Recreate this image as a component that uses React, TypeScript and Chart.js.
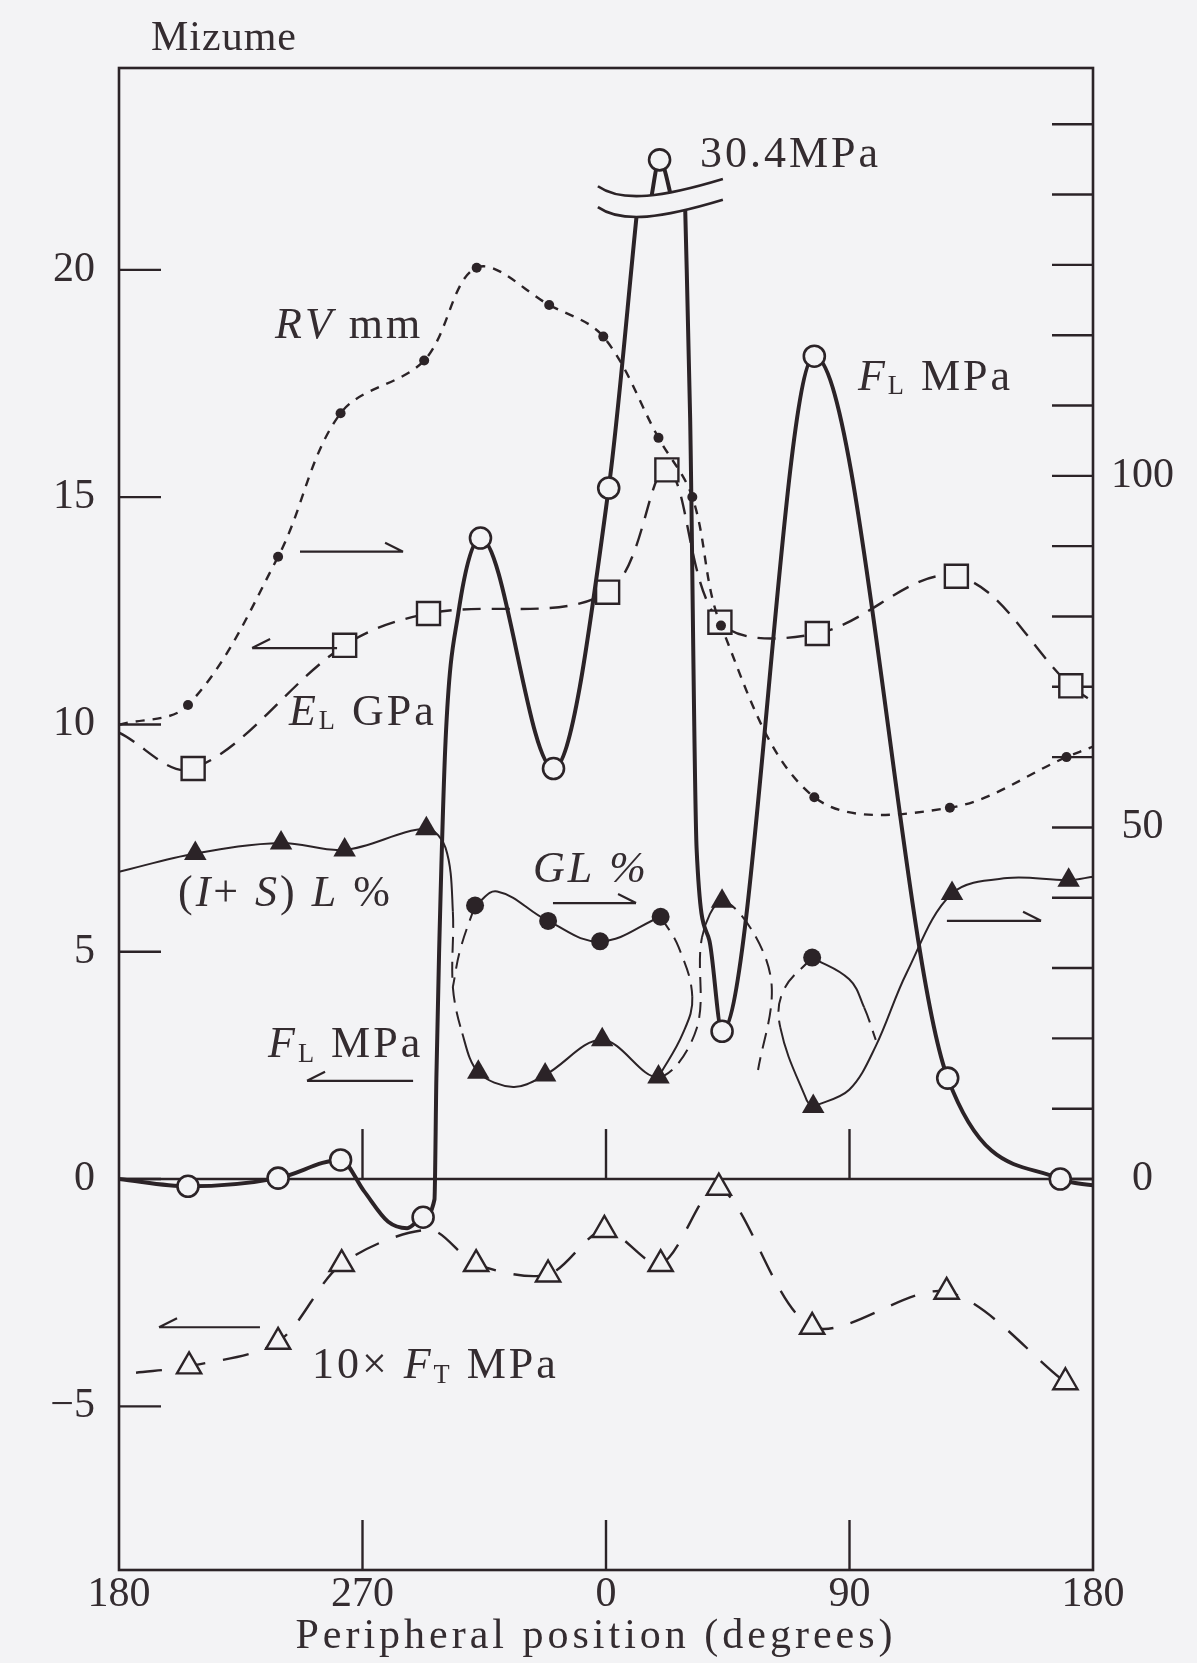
import React, { useEffect, useRef } from 'react';
import { Chart, registerables } from 'chart.js';

Chart.register(...registerables);

const W = 1197;
const H = 1663;
const BG = '#f3f3f5';
const INK = '#2b2327';
const TEXT = '#342c30';
const SERIF = '"Liberation Serif", "DejaVu Serif", serif';

// Peripheral position: axis runs 180° → 270° → 0° → 90° → 180°, stored as 0..360
const X_TICK_LABELS = ['180', '270', '0', '90', '180'];
const LEFT_TICKS = [-5, 0, 5, 10, 15, 20];
const RIGHT_TICKS = [0, 10, 20, 30, 40, 50, 60, 70, 80, 90, 100, 110, 120, 130, 140, 150];
const RIGHT_TICK_LABELS = [0, 50, 100];
const AXIS_TICK_POS = [90, 180, 270];

// F_L MPa (left axis), null = axis break
const FL_X = [0, 25.5, 58.8, 81.9, 90.5, 99.5, 106.5, 112.4, 116.6, 117.3, 118.3, 120.7, 125.4, 133.6, 160.6, 181.0, 191.5, 194, 196.3, 199.8, 204.8, 207, 209.2, 211.1, 213.5, 218.2, 222.9, 257.0, 306.3, 347.9, 360];
const FL_Y = [0, -0.16, 0.02, 0.42, -0.26, -0.94, -1.08, -0.84, -0.45, 2.2, 4.96, 9.64, 12.44, 14.1, 9.03, 15.2, 21.3, null, 21.45, 22.42, 21.45, null, 21.5, 16.74, 7.25, 5.25, 3.25, 18.1, 2.22, 0, -0.14];
const FL_MARK = [0, 1, 1, 1, 0, 0, 0, 1, 0, 0, 0, 0, 0, 1, 1, 1, 0, 0, 0, 1, 0, 0, 0, 0, 0, 0, 1, 1, 1, 1, 0];

// RV mm (right axis)
const RV_X = [0, 25.5, 58.8, 81.9, 112.8, 132.2, 159.0, 179.0, 199.4, 211.9, 222.5, 257.0, 307.1, 350.2, 360];
const RV_Y = [64.6, 67.4, 88.5, 108.9, 116.4, 129.6, 124.3, 119.8, 105.4, 97.0, 78.7, 54.3, 52.8, 60.0, 61.5];
const RV_MARK = [0, 1, 1, 1, 1, 1, 1, 1, 1, 1, 1, 1, 1, 1, 0];

// E_L GPa (left axis)
const EL_X = [0, 27.4, 83.4, 114.4, 180.6, 202.5, 222.1, 258.1, 309.5, 351.8, 360];
const EL_Y = [9.82, 9.03, 11.74, 12.44, 12.91, 15.6, 12.25, 12.0, 13.26, 10.85, 10.5];
const EL_MARK = [0, 1, 1, 1, 1, 1, 1, 1, 1, 1, 0];

// 10 x F_T MPa (left axis)
const FT_X = [6.3, 25.9, 58.8, 82.3, 114.8, 132.0, 158.6, 179.4, 200.2, 221.7, 256.2, 305.9, 349.8];
const FT_Y = [-4.26, -4.12, -3.58, -1.87, -1.12, -1.87, -2.10, -1.12, -1.87, -0.19, -3.25, -2.48, -4.47];
const FT_MARK = [0, 1, 1, 1, 0, 1, 1, 1, 1, 1, 1, 1, 1];

// (I+S)L % (right axis)
const ISL_X = [0, 28.2, 59.9, 83.4, 113.6, 120.7, 123.4, 123.4, 126.9, 132.8, 145.7, 157.5, 178.6, 199.4, 213.5, 215.5, 222.9, 235.0, 241.3, 236.2];
const ISL_Y = [43.7, 46.3, 47.8, 46.8, 49.8, 47.1, 38.0, 27.3, 20.7, 15.2, 13.1, 14.8, 19.8, 14.5, 21.4, 34.4, 39.5, 34.7, 27.0, 15.5];
const ISL_MARK = [0, 1, 1, 1, 1, 0, 0, 0, 0, 1, 0, 1, 1, 1, 0, 0, 1, 0, 0, 0];
const ISL_DASH = [0, 0, 0, 0, 0, 0, 1, 1, 0, 0, 0, 0, 0, 1, 1, 0, 1, 1, 1];

const ISL2_X = [256.6, 269.9, 279.7, 291.1, 307.9, 328.3, 351.0, 360];
const ISL2_Y = [10.3, 12.7, 18.9, 29.3, 40.6, 42.8, 42.5, 43.0];
const ISL2_MARK = [1, 0, 0, 0, 1, 0, 1, 0];

// GL % (right axis)
const GL_X = [131.6, 139.8, 158.6, 177.8, 200.2, 228, 256.2];
const GL_Y = [38.9, 40.9, 36.7, 33.8, 37.3, null, 31.5];
const GL_MARK = [1, 0, 1, 1, 1, 0, 1];

// connecting curves between GL and (I+S)L (right axis)
const LINK1_X = [131.6, 126.1, 123.4];
const LINK1_Y = [38.9, 32.6, 27.3];
const LINK1_DASH = [1, 1];
const LINK2_X = [200.2, 206.8, 211.9, 208.4, 199.4];
const LINK2_Y = [37.3, 33.0, 25.9, 20.7, 14.5];
const LINK2_DASH = [1, 1, 0, 0];
const LINK3_X = [256.2, 245.6, 244.4, 254.2, 256.6];
const LINK3_Y = [31.5, 26.8, 21.6, 11.2, 10.3];
const LINK3_DASH = [1, 1, 0, 0];
const LINK4_X = [256.2, 269.9, 275.4, 279.7];
const LINK4_Y = [31.5, 28.4, 24.4, 19.8];
const LINK4_DASH = [0, 0, 1];

const pts = (xs: number[], ys: (number | null)[]) => xs.map((x, i) => ({ x, y: ys[i] }));
const radii = (mark: number[], r: number) => mark.map((m) => (m ? r : 0));

type Part = { t: string; it?: boolean; sub?: boolean };

const NOTES: { u: number; v: number; parts: Part[] }[] = [
  { u: 214.7, v: 22.26, parts: [{ t: '30.4MPa' }] },
  { u: 57.7, v: 18.5, parts: [{ t: 'R', it: true }, { t: 'V', it: true }, { t: ' mm' }] },
  { u: 273.1, v: 17.36, parts: [{ t: 'F', it: true }, { t: 'L', sub: true }, { t: ' MPa' }] },
  { u: 62.8, v: 9.99, parts: [{ t: 'E', it: true }, { t: 'L', sub: true }, { t: ' GPa' }] },
  { u: 21.8, v: 6.0, parts: [{ t: '(' }, { t: 'I', it: true }, { t: '+ ' }, { t: 'S', it: true }, { t: ') ' }, { t: 'L', it: true }, { t: ' %' }] },
  { u: 153.0, v: 6.53, parts: [{ t: 'GL', it: true }, { t: ' %', it: true }] },
  { u: 55.1, v: 2.68, parts: [{ t: 'F', it: true }, { t: 'L', sub: true }, { t: ' MPa' }] },
  { u: 71.3, v: -4.38, parts: [{ t: '10×' }, { t: ' F', it: true }, { t: 'T', sub: true }, { t: ' MPa' }] },
];

// harpoon arrows: from u0 to u1 at level v (left axis units)
const ARROWS = [
  { u0: 66.9, u1: 105.0, v: 13.8 },
  { u0: 80.6, u1: 49.2, v: 11.68 },
  { u0: 160.4, u1: 191.1, v: 6.07 },
  { u0: 108.7, u1: 69.5, v: 2.16 },
  { u0: 306.0, u1: 340.8, v: 5.68 },
  { u0: 52.1, u1: 14.8, v: -3.26 },
];

function drawRich(ctx: CanvasRenderingContext2D, parts: Part[], x: number, y: number, size: number, spacing: number) {
  let cx = x;
  ctx.save();
  ctx.fillStyle = TEXT;
  ctx.textBaseline = 'alphabetic';
  ctx.textAlign = 'left';
  (ctx as any).letterSpacing = spacing + 'px';
  for (const p of parts) {
    const s = p.sub ? size * 0.6 : size;
    ctx.font = `${p.it ? 'italic ' : ''}${s}px ${SERIF}`;
    ctx.fillText(p.t, cx, y + (p.sub ? size * 0.1 : 0));
    cx += ctx.measureText(p.t).width;
  }
  ctx.restore();
}

const overlay = {
  id: 'overlay',
  beforeDatasetsDraw(chart: any) {
    const { ctx, chartArea: a, scales } = chart;
    const sx = scales.x, yL = scales.yL, yR = scales.yR;
    const seg = (x0: number, y0: number, x1: number, y1: number) => {
      ctx.beginPath();
      ctx.moveTo(x0, y0);
      ctx.lineTo(x1, y1);
      ctx.stroke();
    };
    ctx.save();
    ctx.strokeStyle = INK;
    ctx.lineWidth = 2.6;
    ctx.strokeRect(a.left, a.top, a.right - a.left, a.bottom - a.top);
    ctx.lineWidth = 2.4;
    const z = yL.getPixelForValue(0);
    seg(a.left, z, a.right, z);
    for (const v of LEFT_TICKS) {
      const py = yL.getPixelForValue(v);
      seg(a.left, py, a.left + 42, py);
    }
    for (const r of RIGHT_TICKS) {
      const py = yR.getPixelForValue(r);
      seg(a.right - 41, py, a.right, py);
    }
    for (const u of AXIS_TICK_POS) {
      const px = sx.getPixelForValue(u);
      seg(px, a.bottom, px, a.bottom - 50);
      seg(px, z, px, z - 50);
    }
    ctx.restore();
  },
  afterDatasetsDraw(chart: any) {
    const { ctx, scales } = chart;
    const sx = scales.x, yL = scales.yL;
    const P = (u: number, v: number) => [sx.getPixelForValue(u), yL.getPixelForValue(v)];
    ctx.save();
    // axis break on the F_L peak
    const top = [P(177.0, 21.84), P(186, 21.47), P(201, 21.6), P(223.2, 22.0)];
    const bot = [P(177.0, 21.38), P(186, 21.01), P(201, 21.14), P(223.2, 21.54)];
    ctx.fillStyle = BG;
    ctx.beginPath();
    ctx.moveTo(top[0][0], top[0][1]);
    ctx.bezierCurveTo(top[1][0], top[1][1], top[2][0], top[2][1], top[3][0], top[3][1]);
    ctx.lineTo(bot[3][0], bot[3][1]);
    ctx.bezierCurveTo(bot[2][0], bot[2][1], bot[1][0], bot[1][1], bot[0][0], bot[0][1]);
    ctx.closePath();
    ctx.fill();
    ctx.strokeStyle = INK;
    ctx.lineWidth = 2.6;
    for (const c of [top, bot]) {
      ctx.beginPath();
      ctx.moveTo(c[0][0], c[0][1]);
      ctx.bezierCurveTo(c[1][0], c[1][1], c[2][0], c[2][1], c[3][0], c[3][1]);
      ctx.stroke();
    }
    // arrows
    ctx.lineWidth = 2.2;
    for (const ar of ARROWS) {
      const [x0, y] = P(ar.u0, ar.v);
      const [x1] = P(ar.u1, ar.v);
      const dir = Math.sign(x1 - x0);
      ctx.beginPath();
      ctx.moveTo(x0, y);
      ctx.lineTo(x1, y);
      ctx.moveTo(x1, y);
      ctx.lineTo(x1 - dir * 18, y - 9);
      ctx.stroke();
    }
    ctx.restore();
    for (const n of NOTES) {
      const [x, y] = P(n.u, n.v);
      drawRich(ctx, n.parts, x, y, 44, 3);
    }
  },
  afterDraw(chart: any) {
    const { ctx, chartArea: a } = chart;
    drawRich(ctx, [{ t: 'Mizume' }], a.left + 32, a.top - 18, 42, 1);
    ctx.save();
    ctx.fillStyle = TEXT;
    ctx.font = `42px ${SERIF}`;
    (ctx as any).letterSpacing = '4px';
    ctx.textAlign = 'center';
    ctx.textBaseline = 'alphabetic';
    ctx.fillText('Peripheral position (degrees)', (a.left + a.right) / 2 - 10, a.bottom + 78);
    ctx.restore();
  },
};

export default function App() {
  const ref = useRef<HTMLCanvasElement>(null);
  useEffect(() => {
    const canvas = ref.current;
    if (!canvas) return;
    const tickFont = { family: SERIF, size: 42 };
    const link = (xs: number[], ys: number[], dash: number[]) => ({
      data: pts(xs, ys),
      yAxisID: 'yR',
      borderColor: INK,
      borderWidth: 2,
      tension: 0.4,
      pointRadius: 0,
      fill: false,
      segment: { borderDash: (c: any) => (dash[c.p0DataIndex] ? [16, 9] : []) },
    });
    const chart = new Chart(canvas, {
      type: 'line',
      data: {
        datasets: [
          {
            label: 'F_L MPa',
            data: pts(FL_X, FL_Y),
            yAxisID: 'yL',
            borderColor: INK,
            borderWidth: 4,
            cubicInterpolationMode: 'monotone',
            spanGaps: false,
            pointStyle: 'circle',
            pointRadius: radii(FL_MARK, 10.5),
            pointBorderWidth: 2.6,
            pointBackgroundColor: BG,
            pointBorderColor: INK,
            fill: false,
          },
          {
            label: 'RV mm',
            data: pts(RV_X, RV_Y),
            yAxisID: 'yR',
            borderColor: INK,
            borderWidth: 2.4,
            borderDash: [9, 8],
            tension: 0.35,
            pointStyle: 'circle',
            pointRadius: radii(RV_MARK, 5),
            pointBorderWidth: 0,
            pointBackgroundColor: INK,
            fill: false,
          },
          {
            label: 'GL %',
            data: pts(GL_X, GL_Y),
            yAxisID: 'yR',
            borderColor: INK,
            borderWidth: 2,
            tension: 0.4,
            spanGaps: false,
            pointStyle: 'circle',
            pointRadius: radii(GL_MARK, 9),
            pointBorderWidth: 0,
            pointBackgroundColor: INK,
            fill: false,
          },
          link(LINK1_X, LINK1_Y, LINK1_DASH),
          link(LINK2_X, LINK2_Y, LINK2_DASH),
          link(LINK3_X, LINK3_Y, LINK3_DASH),
          link(LINK4_X, LINK4_Y, LINK4_DASH),
          {
            label: '(I+S)L %',
            data: pts(ISL_X, ISL_Y),
            yAxisID: 'yR',
            borderColor: INK,
            borderWidth: 2,
            tension: 0.35,
            pointStyle: 'triangle',
            pointRadius: radii(ISL_MARK, 13),
            pointBorderWidth: 0,
            pointBackgroundColor: INK,
            fill: false,
            segment: { borderDash: (c: any) => (ISL_DASH[c.p0DataIndex] ? [16, 9] : []) },
          },
          {
            label: '(I+S)L % b',
            data: pts(ISL2_X, ISL2_Y),
            yAxisID: 'yR',
            borderColor: INK,
            borderWidth: 2,
            tension: 0.35,
            pointStyle: 'triangle',
            pointRadius: radii(ISL2_MARK, 13),
            pointBorderWidth: 0,
            pointBackgroundColor: INK,
            fill: false,
          },
          {
            label: 'E_L GPa',
            data: pts(EL_X, EL_Y),
            yAxisID: 'yL',
            borderColor: INK,
            borderWidth: 2.4,
            borderDash: [18, 11],
            tension: 0.35,
            pointStyle: 'rect',
            pointRadius: radii(EL_MARK, 16.3),
            pointBorderWidth: 2.4,
            pointBackgroundColor: BG,
            pointBorderColor: INK,
            fill: false,
          },
          {
            label: '10xF_T MPa',
            data: pts(FT_X, FT_Y),
            yAxisID: 'yL',
            borderColor: INK,
            borderWidth: 2.4,
            borderDash: [26, 18],
            tension: 0.3,
            pointStyle: 'triangle',
            pointRadius: radii(FT_MARK, 14),
            pointBorderWidth: 2.4,
            pointBackgroundColor: BG,
            pointBorderColor: INK,
            fill: false,
          },
        ],
      } as any,
      options: {
        responsive: false,
        animation: false,
        devicePixelRatio: 1,
        events: [],
        layout: { padding: { top: 68, left: 0, right: 0, bottom: 0 } },
        plugins: { legend: { display: false }, tooltip: { enabled: false }, title: { display: false } },
        scales: {
          x: {
            type: 'linear',
            min: 0,
            max: 360,
            grid: { display: false, drawTicks: false },
            border: { display: false },
            ticks: {
              stepSize: 90,
              autoSkip: false,
              maxRotation: 0,
              padding: 0,
              color: TEXT,
              font: tickFont,
              callback: (v: any) => X_TICK_LABELS[Math.round(Number(v) / 90)] ?? '',
            },
            afterFit: (s: any) => {
              s.height = 93;
            },
          },
          yL: {
            type: 'linear',
            position: 'left',
            min: -8.6,
            max: 24.44,
            grid: { display: false, drawTicks: false },
            border: { display: false },
            ticks: {
              stepSize: 5,
              includeBounds: false,
              autoSkip: false,
              padding: 24,
              color: TEXT,
              font: tickFont,
              callback: (v: any) => {
                const n = Number(v);
                if (!LEFT_TICKS.includes(n)) return '';
                return n < 0 ? '−' + Math.abs(n) : String(n);
              },
            },
            afterFit: (s: any) => {
              s.width = 119;
            },
          },
          yR: {
            type: 'linear',
            position: 'right',
            min: -55.6,
            max: 158,
            grid: { display: false, drawTicks: false },
            border: { display: false },
            ticks: {
              stepSize: 10,
              includeBounds: false,
              autoSkip: false,
              crossAlign: 'center',
              padding: 18,
              color: TEXT,
              font: tickFont,
              callback: (v: any) => (RIGHT_TICK_LABELS.includes(Number(v)) ? String(v) : ''),
            },
            afterFit: (s: any) => {
              s.width = 104;
            },
          },
        },
      } as any,
      plugins: [overlay],
    });
    return () => chart.destroy();
  }, []);
  return (
    <div style={{ position: 'absolute', left: 0, top: 0, width: W, height: H, background: BG, overflow: 'hidden' }}>
      <canvas ref={ref} width={W} height={H} style={{ display: 'block', width: W, height: H }} />
    </div>
  );
}
